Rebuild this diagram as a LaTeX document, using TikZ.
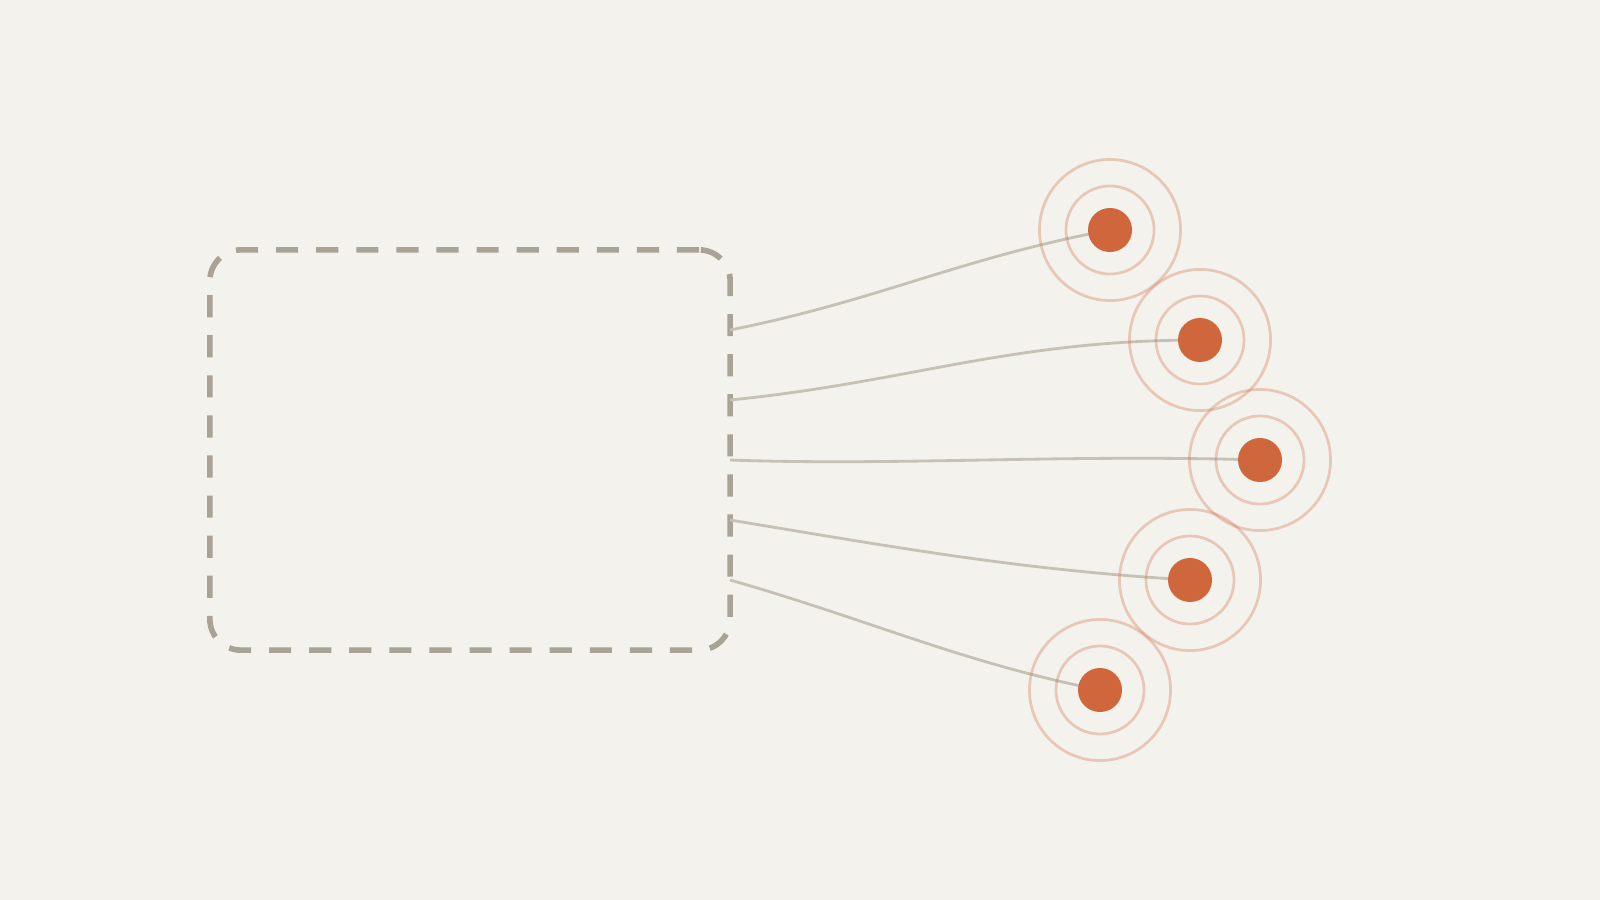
\documentclass[tikz,border=0pt]{standalone}
\begin{document}
\definecolor{bg}{HTML}{F3F2ED}
\definecolor{dashc}{HTML}{A8A396}
\definecolor{connc}{HTML}{C6C1B5}
\definecolor{dotc}{HTML}{D0663C}
\begin{tikzpicture}[x=0.01cm,y=-0.01cm,
  boxstyle/.style={draw=dashc, line width=1.6pt, dash pattern=on 6.3pt off 5.1pt, rounded corners=0.31cm, minimum width=5.2cm, minimum height=4cm, inner sep=0pt},
  conn/.style={draw=connc, line width=0.8pt},
  ringout/.style={circle, draw=dotc, draw opacity=0.3, line width=0.78pt, minimum size=1.41cm, inner sep=0pt},
  ringin/.style={circle, draw=dotc, draw opacity=0.3, line width=0.78pt, minimum size=0.88cm, inner sep=0pt},
  dotstyle/.style={circle, fill=dotc, minimum size=0.44cm, inner sep=0pt}]
\fill[bg] (0,0) rectangle (1600,900);
\useasboundingbox (0,0) rectangle (1600,900);
\node[boxstyle] (box) at (470,450) {};
\coordinate (s1) at (730,330);
\coordinate (s2) at (730,400);
\coordinate (s3) at (730,460);
\coordinate (s4) at (730,520);
\coordinate (s5) at (730,580);
\coordinate (p1) at (1110,230);
\coordinate (p2) at (1200,340);
\coordinate (p3) at (1260,460);
\coordinate (p4) at (1190,580);
\coordinate (p5) at (1100,690);
\draw[conn] (s1) .. controls (880,300) and (960,258) .. (p1);
\draw[conn] (s2) .. controls (910,382) and (1010,340) .. (p2);
\draw[conn] (s3) .. controls (900,466) and (1060,454) .. (p3);
\draw[conn] (s4) .. controls (900,548) and (1020,570) .. (p4);
\draw[conn] (s5) .. controls (870,620) and (960,662) .. (p5);
\foreach \i in {1,...,5}{
  \node[ringout] (ro\i) at (p\i) {};
  \node[ringin] (ri\i) at (p\i) {};
  \node[dotstyle] (d\i) at (p\i) {};
}
\end{tikzpicture}
\end{document}
